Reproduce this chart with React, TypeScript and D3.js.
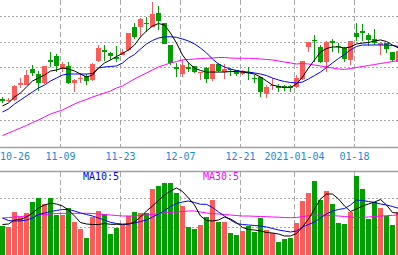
import React from 'react';
import * as d3 from 'd3';

const dates = [
  '2020-10-26','2020-10-27','2020-10-28','2020-10-29','2020-10-30',
  '2020-11-02','2020-11-03','2020-11-04','2020-11-05','2020-11-06',
  '2020-11-09','2020-11-10','2020-11-11','2020-11-12','2020-11-13',
  '2020-11-16','2020-11-17','2020-11-18','2020-11-19','2020-11-20',
  '2020-11-23','2020-11-24','2020-11-25','2020-11-26','2020-11-27',
  '2020-11-30','2020-12-01','2020-12-02','2020-12-03','2020-12-04',
  '2020-12-07','2020-12-08','2020-12-09','2020-12-10','2020-12-11',
  '2020-12-14','2020-12-15','2020-12-16','2020-12-17','2020-12-18',
  '2020-12-21','2020-12-22','2020-12-23','2020-12-24','2020-12-25',
  '2020-12-28','2020-12-29','2020-12-30','2020-12-31',
  '2021-01-04','2021-01-05','2021-01-06','2021-01-07','2021-01-08',
  '2021-01-11','2021-01-12','2021-01-13','2021-01-14','2021-01-15',
  '2021-01-18','2021-01-19','2021-01-20','2021-01-21','2021-01-22',
  '2021-01-25','2021-01-26','2021-01-27',
];

const open = [5.154,5.142,5.150,5.265,5.265,5.388,5.350,5.281,5.458,5.488, 5.388,5.412,5.281,5.315,5.335,5.304,5.450,5.531,5.512,5.477, 5.496,5.535,5.712,5.712,5.746,5.712,5.819,5.742,5.573,5.400, 5.350,5.400,5.412,5.358,5.396,5.312,5.427,5.365,5.385,5.381, 5.350,5.362,5.323,5.327,5.196,5.254,5.254,5.254,5.254,5.250, 5.312,5.558,5.615,5.558,5.442,5.604,5.562,5.550,5.458,5.665, 5.677,5.650,5.619,5.573,5.588,5.519,5.442];
const high = [5.173,5.162,5.262,5.319,5.381,5.419,5.373,5.412,5.519,5.504, 5.442,5.442,5.312,5.358,5.350,5.435,5.573,5.573,5.519,5.565, 5.542,5.665,5.742,5.781,5.788,5.904,5.873,5.742,5.573,5.435, 5.458,5.435,5.415,5.369,5.404,5.427,5.435,5.427,5.396,5.381, 5.377,5.404,5.342,5.327,5.265,5.319,5.273,5.265,5.265,5.342, 5.450,5.596,5.650,5.573,5.604,5.619,5.588,5.558,5.604,5.742, 5.735,5.665,5.696,5.588,5.588,5.519,5.535];
const low = [5.127,5.131,5.146,5.242,5.265,5.335,5.219,5.273,5.404,5.365, 5.365,5.273,5.212,5.281,5.265,5.296,5.442,5.450,5.458,5.442, 5.496,5.527,5.619,5.635,5.673,5.712,5.688,5.581,5.419,5.327, 5.327,5.365,5.358,5.304,5.281,5.296,5.365,5.312,5.335,5.335, 5.346,5.304,5.281,5.173,5.165,5.227,5.212,5.219,5.212,5.242, 5.304,5.519,5.442,5.435,5.365,5.519,5.512,5.442,5.419,5.604, 5.604,5.565,5.573,5.496,5.512,5.442,5.442];
const close = [5.146,5.150,5.258,5.281,5.342,5.358,5.281,5.412,5.442,5.412, 5.427,5.281,5.304,5.323,5.296,5.427,5.550,5.523,5.488,5.465, 5.519,5.665,5.635,5.773,5.738,5.812,5.758,5.581,5.435,5.392, 5.419,5.392,5.365,5.365,5.312,5.427,5.373,5.388,5.377,5.350, 5.373,5.354,5.315,5.212,5.250,5.262,5.246,5.246,5.246,5.319, 5.450,5.596,5.608,5.442,5.596,5.588,5.554,5.465,5.604,5.635, 5.669,5.612,5.588,5.588,5.542,5.458,5.527];

const ma5 = [5.104,5.127,5.173,5.204,5.250,5.296,5.319,5.342,5.373,5.381, 5.396,5.388,5.373,5.350,5.327,5.342,5.396,5.435,5.458,5.485, 5.508,5.535,5.573,5.635,5.681,5.719,5.738,5.727,5.665,5.588, 5.496,5.435,5.396,5.377,5.365,5.365,5.365,5.365,5.369,5.369, 5.365,5.358,5.350,5.327,5.296,5.265,5.254,5.246,5.246,5.273, 5.327,5.396,5.458,5.519,5.546,5.558,5.558,5.550,5.558,5.581, 5.588,5.592,5.604,5.612,5.600,5.573,5.550];
const ma10 = [5.058,5.081,5.119,5.150,5.181,5.212,5.242,5.265,5.296,5.319, 5.342,5.350,5.350,5.350,5.350,5.354,5.396,5.404,5.408,5.412, 5.435,5.473,5.500,5.542,5.581,5.608,5.627,5.635,5.637,5.632, 5.619,5.604,5.581,5.550,5.512,5.465,5.427,5.404,5.388,5.377, 5.369,5.365,5.358,5.350,5.338,5.319,5.304,5.292,5.285,5.281, 5.288,5.312,5.338,5.365,5.400,5.435,5.469,5.500,5.535,5.562, 5.573,5.573,5.573,5.573,5.573,5.569,5.562];
const ma30 = [4.877,4.896,4.915,4.935,4.954,4.977,4.996,5.019,5.042,5.058, 5.073,5.096,5.119,5.138,5.154,5.173,5.188,5.204,5.219,5.242, 5.258,5.285,5.312,5.335,5.358,5.381,5.404,5.419,5.435,5.446, 5.458,5.462,5.465,5.469,5.471,5.473,5.477,5.477,5.473,5.471, 5.471,5.471,5.469,5.465,5.462,5.458,5.450,5.442,5.435,5.427, 5.431,5.427,5.419,5.412,5.404,5.396,5.388,5.385,5.392,5.400, 5.408,5.415,5.423,5.431,5.438,5.446,5.454];

const volume = [103,101,153,136,147,187,199,179,201,141, 141,167,116,93,63,136,155,144,75,98, 107,139,153,147,148,230,242,251,251,216, 172,101,93,107,136,193,118,118,80,72, 86,105,84,132,90,78,49,59,61,113, 190,216,259,193,224,178,113,109,153,276, 231,128,187,167,139,107,153];
const volMa5 = [108.6,110.3,124.1,125.9,134.5,148.3,165.5,175.9,181.7,179.3, 172.4,158.6,137.9,115.5,110.3,108.6,108.6,112.1,109.3,109.3, 109.3,110.3,117.2,134.5,155.2,172.4,191.4,210.3,224.1,234.5, 222.4,200.0,175.9,137.9,122.4,120.7,124.1,134.5,127.6,115.5, 98.3,91.4,89.7,86.2,81.0,79.3,75.9,69.0,69.0,77.6, 100.0,127.6,162.1,196.6,213.8,213.8,196.6,172.4,153.4,162.1, 172.4,179.3,186.2,194.8,175.9,150.0,147.2];
const volMa10 = [131.0,122.4,120.7,120.7,124.1,131.0,143.1,148.3,153.4,156.9, 160.3,160.3,155.2,148.3,143.1,137.9,131.0,124.1,116.2,112.1, 109.3,110.3,113.8,119.0,124.1,134.5,144.8,156.9,170.7,181.0, 186.2,189.7,184.5,178.3,178.3,167.2,151.7,137.9,124.1,112.1, 108.6,106.9,105.2,103.4,100.0,94.8,89.7,86.2,82.8,86.2, 100.0,108.6,117.2,131.0,144.8,155.2,160.3,163.8,175.9,193.1, 191.4,187.9,184.5,179.3,175.9,170.7,164.5];
const volMa30 = [131.0,132.7,134.5,136.2,137.9,139.6,141.4,143.1,144.8,146.5, 147.2,147.2,147.2,147.2,147.2,146.5,144.8,143.1,141.4,139.6, 137.9,137.9,137.9,139.6,141.4,143.1,146.5,148.3,150.0,151.7, 153.4,155.2,155.2,151.7,148.3,146.5,144.8,143.1,141.4,139.6, 137.9,137.9,136.9,136.2,135.5,134.5,133.8,132.7,132.1,132.7, 136.2,139.0,140.3,141.4,140.3,139.0,137.9,136.2,134.5,132.1, 133.4,134.5,136.2,137.9,139.0,140.3,141.4];

const tickDates = ['2020-10-26','2020-11-09','2020-11-23','2020-12-07','2020-12-21','2021-01-04','2021-01-18'];
const tickLabels = ['10-26','11-09','11-23','12-07','12-21','2021-01-04','01-18'];
const priceGrid = [5.0, 5.2, 5.4, 5.6, 5.8];
const volumeGrid = [100, 200];
const legendLabels = ['MA10:5', 'MA30:5'];

const W = 398;
const H = 255;
const RED = '#ff5a5a';
const GREEN = '#00a000';
const GRID = '#a8a8a8';
const FONT = '"DejaVu Sans Mono", "Liberation Mono", monospace';

export default function App() {
  const x = d3.scaleLinear().domain([0, dates.length]).range([0, dates.length * 6]);
  const y = d3.scaleLinear().domain([5.0, 5.8]).range([119.5, 15.5]);
  const yv = d3.scaleLinear().domain([0, 200]).range([256, 198]);
  const idx = dates.map((_, i) => i);
  const cx = (i: number) => x(i) + 2.5;

  const priceLine = (arr: number[]) =>
    d3.line<number>().x((i) => cx(i)).y((i) => y(arr[i]))(idx) || '';
  const volLine = (arr: number[]) =>
    d3.line<number>().x((i) => cx(i)).y((i) => yv(arr[i]))(idx) || '';

  const tickIdx = tickDates.map((d) => dates.indexOf(d));

  return (
    <svg width={W} height={H} style={{ position: 'fixed', left: 0, top: 0, background: '#fff' }}>
      <defs>
        <clipPath id="mainClip"><rect x={0} y={0} width={W} height={147} /></clipPath>
        <clipPath id="volClip"><rect x={0} y={172} width={W} height={H - 172} /></clipPath>
      </defs>
      <rect x={0} y={0} width={W} height={H} fill="#fff" />

      {/* main panel grid */}
      {priceGrid.map((p) => (
        <line key={'pg' + p} x1={0} x2={W} y1={Math.round(y(p)) + 0.5} y2={Math.round(y(p)) + 0.5}
          stroke={GRID} strokeDasharray="2,2" strokeWidth={1} shapeRendering="crispEdges" />
      ))}
      {tickIdx.filter((i) => i > 0).map((i) => (
        <line key={'vg' + i} x1={x(i) + 0.5} x2={x(i) + 0.5} y1={0} y2={147}
          stroke={GRID} strokeDasharray="5,3" strokeWidth={1} shapeRendering="crispEdges" />
      ))}
      {/* volume panel grid */}
      {volumeGrid.map((v) => (
        <line key={'vgh' + v} x1={0} x2={W} y1={Math.round(yv(v)) + 0.5} y2={Math.round(yv(v)) + 0.5}
          stroke={GRID} strokeDasharray="2,2" strokeWidth={1} shapeRendering="crispEdges" />
      ))}
      {tickIdx.filter((i) => i > 0).map((i) => (
        <line key={'vgv' + i} x1={x(i) + 0.5} x2={x(i) + 0.5} y1={172} y2={H}
          stroke={GRID} strokeDasharray="5,3" strokeWidth={1} shapeRendering="crispEdges" />
      ))}

      {/* candles */}
      <g clipPath="url(#mainClip)">
        {idx.map((i) => {
          const up = close[i] >= open[i];
          const color = up ? RED : GREEN;
          const top = Math.round(y(Math.max(open[i], close[i])));
          const bot = Math.round(y(Math.min(open[i], close[i])));
          return (
            <g key={'c' + i} shapeRendering="crispEdges">
              <rect x={x(i) + 2} y={Math.round(y(high[i]))} width={1}
                height={Math.max(1, Math.round(y(low[i])) - Math.round(y(high[i])))} fill={color} />
              <rect x={x(i)} y={top} width={5} height={Math.max(1, bot - top)} fill={color} />
            </g>
          );
        })}
        <path d={priceLine(ma30)} fill="none" stroke="#ff00ff" strokeWidth={1} />
        <path d={priceLine(ma10)} fill="none" stroke="#0000ff" strokeWidth={1} />
        <path d={priceLine(ma5)} fill="none" stroke="#000000" strokeWidth={1} />
      </g>

      {/* volume */}
      <g clipPath="url(#volClip)">
        {idx.map((i) => {
          const up = close[i] >= open[i];
          const t = Math.round(yv(volume[i]));
          return (
            <rect key={'v' + i} x={x(i)} y={t} width={5} height={H - t}
              fill={up ? RED : GREEN} shapeRendering="crispEdges" />
          );
        })}
        <path d={volLine(volMa30)} fill="none" stroke="#ff00ff" strokeWidth={1} />
        <path d={volLine(volMa10)} fill="none" stroke="#0000ff" strokeWidth={1} />
        <path d={volLine(volMa5)} fill="none" stroke="#000000" strokeWidth={1} />
      </g>

      {/* panel borders */}
      <line x1={0} x2={W} y1={147.5} y2={147.5} stroke="#a0a0a0" strokeWidth={1.5} />
      <line x1={0} x2={W} y1={171.5} y2={171.5} stroke="#a0a0a0" strokeWidth={1.5} />

      {/* date labels */}
      {tickIdx.map((i, k) => {
        const label = tickLabels[k];
        const halfW = label.length * 3;
        const px = Math.max(x(i) + 0.5, halfW);
        return (
          <text key={'t' + k} x={px} y={160} textAnchor="middle" fontFamily={FONT}
            fontSize={10} fill="#1a8ad8">{label}</text>
        );
      })}

      {/* legend */}
      <text x={83} y={180} fontFamily={FONT} fontSize={10} fill="#0000ff">{legendLabels[0]}</text>
      <text x={203} y={180} fontFamily={FONT} fontSize={10} fill="#ff00ff">{legendLabels[1]}</text>
    </svg>
  );
}
